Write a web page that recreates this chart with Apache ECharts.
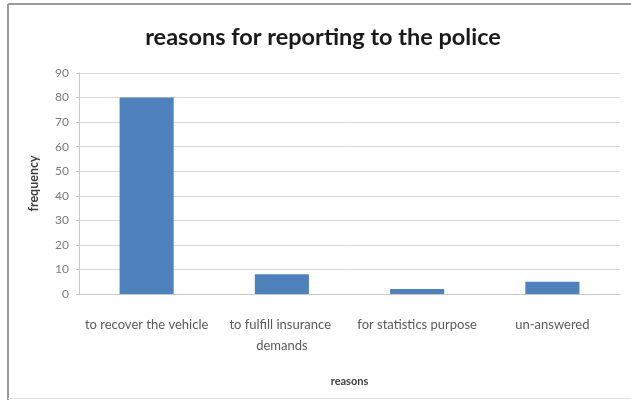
<!DOCTYPE html>
<html>
<head>
<meta charset="utf-8">
<script src="https://cdn.jsdelivr.net/npm/echarts@6/dist/echarts.min.js"></script>
<style>
html,body{margin:0;padding:0;background:#fff;}
#chart{width:631px;height:400px;}
</style>
</head>
<body>
<div id="chart"></div>
<script>
const titleText = "reasons for reporting to the police";
const categories = ["to recover the vehicle", "to fulfill insurance demands", "for statistics purpose", "un-answered"];
const frequency = [80, 8, 2, 5];
const yTicks = [0, 10, 20, 30, 40, 50, 60, 70, 80, 90];
const xAxisTitle = "reasons";
const yAxisTitle = "frequency";

const FONT = "Lato";
const chart = echarts.init(document.getElementById('chart'), null, {renderer: 'canvas'});
chart.setOption({
  animation: false,
  backgroundColor: '#ffffff',
  title: {
    text: titleText,
    left: 318,
    top: 20,
    textAlign: 'center',
    textStyle: {fontFamily: FONT, fontSize: 23.5, fontWeight: 'bold', color: '#1a1a1a'}
  },
  grid: {left: 79, right: 11, top: 73, bottom: 106, containLabel: false},
  xAxis: {
    type: 'category',
    data: categories,
    name: xAxisTitle,
    nameLocation: 'middle',
    nameGap: 82,
    nameTextStyle: {fontFamily: FONT, fontSize: 11, fontWeight: 'bold', color: '#404040'},
    axisLine: {show: true, lineStyle: {color: '#c8c8c8', width: 1}},
    axisTick: {show: false},
    axisLabel: {
      interval: 0,
      fontFamily: FONT, fontSize: 13, color: '#595959',
      width: 130, overflow: 'break', lineHeight: 21, margin: 20
    }
  },
  yAxis: {
    type: 'value',
    min: 0, max: 90, interval: 10,
    name: yAxisTitle,
    nameLocation: 'middle',
    nameGap: 39,
    nameRotate: 90,
    nameTextStyle: {fontFamily: FONT, fontSize: 12.5, fontWeight: 'bold', color: '#404040'},
    axisLine: {show: true, lineStyle: {color: '#c8c8c8', width: 1}},
    axisTick: {show: true, length: 3, lineStyle: {color: '#c8c8c8'}},
    axisLabel: {
      fontFamily: FONT, fontSize: 12, color: '#7a7a7a', margin: 10,
      formatter: function (v) { return yTicks.indexOf(v) >= 0 ? String(v) : ''; }
    },
    splitLine: {show: true, lineStyle: {color: '#d9d9d9', width: 1}}
  },
  series: [{
    type: 'bar',
    data: frequency,
    barWidth: '40%',
    itemStyle: {color: '#4F81BD'}
  }],
  graphic: [
    {type: 'line', shape: {x1: 8, y1: 4, x2: 8, y2: 400}, style: {stroke: '#9a9a9a', lineWidth: 2}},
    {type: 'line', shape: {x1: 8, y1: 4, x2: 631, y2: 4}, style: {stroke: '#9a9a9a', lineWidth: 2}},
    {type: 'line', shape: {x1: 8, y1: 398.5, x2: 631, y2: 398.5}, style: {stroke: '#e0e0e0', lineWidth: 1}}
  ]
});
</script>
</body>
</html>
